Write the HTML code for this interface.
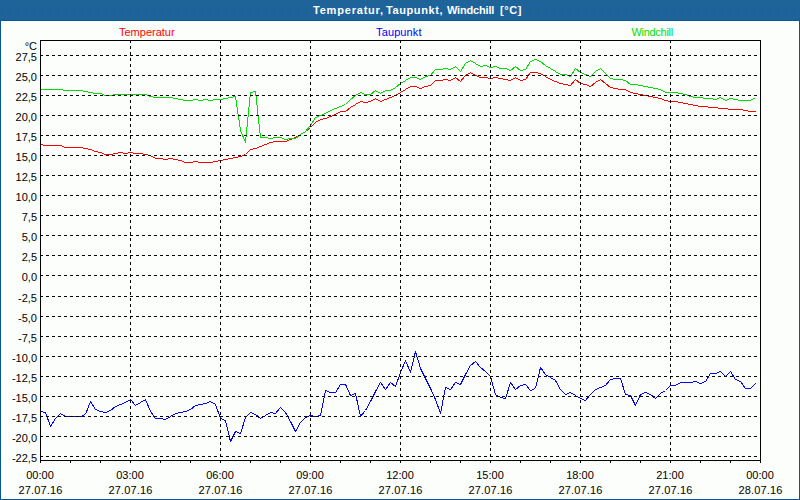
<!DOCTYPE html>
<html><head><meta charset="utf-8"><title>Temperatur, Taupunkt, Windchill</title>
<style>
html,body{margin:0;padding:0;background:#fcfefc;}
body{width:800px;height:500px;overflow:hidden;position:relative;font-family:"Liberation Sans",sans-serif;font-size:11px;color:#000;}
#frame{position:absolute;left:0;top:0;width:798px;height:498px;border:1px solid #0b5591;background:#fcfefc;}
#bevel{position:absolute;left:1px;top:21px;width:796px;height:476px;border:1px solid #ffffff;}
#title{position:absolute;left:0;top:0;width:800px;height:20px;background:#1e6396;border-bottom:1px solid #0b5591;}
#title span{position:absolute;left:313px;top:4px;font-weight:bold;font-size:11px;color:#fff;white-space:nowrap;line-height:13px;}
.t{position:absolute;white-space:nowrap;line-height:13px;font-size:11px;}
.yl{position:absolute;left:0;width:37px;text-align:right;line-height:13px;font-size:11px;}
.xl{position:absolute;width:60px;text-align:center;line-height:13px;font-size:11px;}
</style></head><body>
<div id="frame"></div><div id="bevel"></div>
<div id="title"><svg width="800" height="20" shape-rendering="crispEdges" style="position:absolute;left:0;top:0"><defs><pattern id="dz" width="4" height="6" patternUnits="userSpaceOnUse"><rect x="1" y="1" width="1" height="1" fill="#2265b0"/><rect x="0" y="3" width="1" height="1" fill="#2265b0"/><rect x="2" y="5" width="1" height="1" fill="#2265b0"/></pattern></defs><rect x="0" y="0" width="800" height="20" fill="url(#dz)"/></svg><span id="tt" style="left:313px;letter-spacing:0.8px">Temperatur,</span><span style="left:386px;letter-spacing:0.59px">Taupunkt,</span><span style="left:447px;letter-spacing:-0.17px">Windchill</span><span style="left:500px;letter-spacing:0.6px">[°C]</span></div>

<div class="t" id="l1" style="left:119px;top:26px;color:#ff0000">Temperatur</div>
<div class="t" id="l2" style="left:376px;top:26px;color:#0000ff;letter-spacing:0.13px">Taupunkt</div>
<div class="t" id="l3" style="left:631.5px;top:26px;color:#00dc00;letter-spacing:-0.3px">Windchill</div>
<div class="yl" style="top:40px">°C</div>
<div class="yl" style="top:51px">27,5</div>
<div class="yl" style="top:71px">25,0</div>
<div class="yl" style="top:91px">22,5</div>
<div class="yl" style="top:111px">20,0</div>
<div class="yl" style="top:131px">17,5</div>
<div class="yl" style="top:151px">15,0</div>
<div class="yl" style="top:171px">12,5</div>
<div class="yl" style="top:191px">10,0</div>
<div class="yl" style="top:211px">7,5</div>
<div class="yl" style="top:231px">5,0</div>
<div class="yl" style="top:251px">2,5</div>
<div class="yl" style="top:271px">0,0</div>
<div class="yl" style="top:292px">-2,5</div>
<div class="yl" style="top:312px">-5,0</div>
<div class="yl" style="top:332px">-7,5</div>
<div class="yl" style="top:352px">-10,0</div>
<div class="yl" style="top:372px">-12,5</div>
<div class="yl" style="top:392px">-15,0</div>
<div class="yl" style="top:412px">-17,5</div>
<div class="yl" style="top:432px">-20,0</div>
<div class="yl" style="top:452px">-22,5</div>
<div class="xl" style="left:10px;top:469px">00:00</div>
<div class="xl" style="left:10px;top:484px;letter-spacing:0.12px;margin-left:0.5px">27.07.16</div>
<div class="xl" style="left:100px;top:469px">03:00</div>
<div class="xl" style="left:100px;top:484px;letter-spacing:0.12px;margin-left:0.5px">27.07.16</div>
<div class="xl" style="left:190px;top:469px">06:00</div>
<div class="xl" style="left:190px;top:484px;letter-spacing:0.12px;margin-left:0.5px">27.07.16</div>
<div class="xl" style="left:280px;top:469px">09:00</div>
<div class="xl" style="left:280px;top:484px;letter-spacing:0.12px;margin-left:0.5px">27.07.16</div>
<div class="xl" style="left:370px;top:469px">12:00</div>
<div class="xl" style="left:370px;top:484px;letter-spacing:0.12px;margin-left:0.5px">27.07.16</div>
<div class="xl" style="left:460px;top:469px">15:00</div>
<div class="xl" style="left:460px;top:484px;letter-spacing:0.12px;margin-left:0.5px">27.07.16</div>
<div class="xl" style="left:550px;top:469px">18:00</div>
<div class="xl" style="left:550px;top:484px;letter-spacing:0.12px;margin-left:0.5px">27.07.16</div>
<div class="xl" style="left:640px;top:469px">21:00</div>
<div class="xl" style="left:640px;top:484px;letter-spacing:0.12px;margin-left:0.5px">27.07.16</div>
<div class="xl" style="left:730px;top:469px">00:00</div>
<div class="xl" style="left:730px;top:484px;letter-spacing:0.12px;margin-left:0.5px">28.07.16</div>
<svg width="800" height="500" viewBox="0 0 800 500" shape-rendering="crispEdges" style="position:absolute;left:0;top:0">
<polyline points="40.5,144.5 45.5,145.5 50.5,145.5 55.5,145.5 60.5,145.5 65.5,147.5 70.5,147.5 75.5,147.5 80.5,147.5 85.5,148.5 90.5,149.5 95.5,151.5 100.5,152.5 105.5,154.5 110.5,154.5 115.5,153.5 120.5,152.5 125.5,153.5 130.5,152.5 135.5,153.5 140.5,153.5 145.5,154.5 150.5,155.5 155.5,158.5 160.5,158.5 165.5,159.5 170.5,158.5 175.5,159.5 180.5,160.5 185.5,162.5 190.5,162.5 195.5,161.5 200.5,162.5 205.5,162.5 210.5,162.5 215.5,161.5 220.5,160.5 225.5,159.5 230.5,158.5 235.5,157.5 240.5,156.5 245.5,154.5 250.5,149.5 255.5,148.5 260.5,146.5 265.5,144.5 270.5,142.5 275.5,141.5 280.5,141.5 285.5,141.5 290.5,139.5 295.5,137.5 300.5,134.5 305.5,131.5 310.5,127.5 315.5,122.5 320.5,119.5 325.5,118.5 330.5,116.5 335.5,114.5 340.5,111.5 345.5,111.5 350.5,107.5 355.5,104.5 360.5,101.5 365.5,102.5 370.5,101.5 375.5,98.5 380.5,101.5 385.5,99.5 390.5,97.5 395.5,95.5 400.5,92.5 405.5,89.5 410.5,86.5 415.5,86.5 420.5,88.5 425.5,86.5 430.5,85.5 435.5,80.5 440.5,80.5 445.5,79.5 450.5,80.5 455.5,77.5 460.5,81.5 465.5,75.5 470.5,72.5 475.5,75.5 480.5,77.5 485.5,77.5 490.5,78.5 495.5,77.5 500.5,78.5 505.5,79.5 510.5,80.5 515.5,77.5 520.5,80.5 525.5,79.5 530.5,72.5 535.5,72.5 540.5,73.5 545.5,76.5 550.5,79.5 555.5,81.5 560.5,83.5 565.5,84.5 570.5,85.5 575.5,79.5 580.5,83.5 585.5,84.5 590.5,86.5 595.5,82.5 600.5,79.5 605.5,83.5 610.5,87.5 615.5,88.5 620.5,89.5 625.5,89.5 630.5,92.5 635.5,93.5 640.5,94.5 645.5,95.5 650.5,96.5 655.5,97.5 660.5,98.5 665.5,100.5 670.5,101.5 675.5,101.5 680.5,102.5 685.5,103.5 690.5,104.5 695.5,105.5 700.5,106.5 705.5,106.5 710.5,107.5 715.5,107.5 720.5,108.5 725.5,108.5 730.5,109.5 735.5,109.5 740.5,109.5 745.5,110.5 750.5,111.5 755.5,111.5" fill="none" stroke="#ff0000" stroke-width="1" stroke-linejoin="bevel"/>
<polyline points="40.5,89.5 45.5,89.5 50.5,89.5 55.5,89.5 60.5,89.5 65.5,90.5 70.5,90.5 75.5,90.5 80.5,90.5 85.5,91.5 90.5,92.5 95.5,93.5 100.5,93.5 105.5,95.5 110.5,95.5 115.5,94.5 120.5,94.5 125.5,94.5 130.5,94.5 135.5,94.5 140.5,94.5 145.5,94.5 150.5,96.5 155.5,97.5 160.5,97.5 165.5,97.5 170.5,97.5 175.5,98.5 180.5,99.5 185.5,100.5 190.5,100.5 195.5,99.5 200.5,100.5 205.5,99.5 210.5,100.5 215.5,99.5 220.5,99.5 225.5,98.5 230.5,97.5 235.5,96.5 240.5,130.5 245.5,142.5 250.5,92.5 255.5,91.5 260.5,137.5 265.5,137.5 270.5,138.5 275.5,137.5 280.5,137.5 285.5,139.5 290.5,138.5 295.5,138.5 300.5,134.5 305.5,131.5 310.5,125.5 315.5,117.5 320.5,115.5 325.5,113.5 330.5,110.5 335.5,108.5 340.5,106.5 345.5,104.5 350.5,99.5 355.5,95.5 360.5,92.5 365.5,94.5 370.5,94.5 375.5,90.5 380.5,93.5 385.5,90.5 390.5,90.5 395.5,87.5 400.5,83.5 405.5,80.5 410.5,77.5 415.5,77.5 420.5,79.5 425.5,76.5 430.5,75.5 435.5,69.5 440.5,69.5 445.5,68.5 450.5,69.5 455.5,66.5 460.5,71.5 465.5,63.5 470.5,60.5 475.5,63.5 480.5,66.5 485.5,65.5 490.5,67.5 495.5,66.5 500.5,68.5 505.5,68.5 510.5,70.5 515.5,66.5 520.5,70.5 525.5,69.5 530.5,61.5 535.5,59.5 540.5,61.5 545.5,65.5 550.5,68.5 555.5,71.5 560.5,74.5 565.5,74.5 570.5,76.5 575.5,68.5 580.5,72.5 585.5,74.5 590.5,76.5 595.5,71.5 600.5,68.5 605.5,73.5 610.5,78.5 615.5,79.5 620.5,79.5 625.5,80.5 630.5,84.5 635.5,84.5 640.5,85.5 645.5,86.5 650.5,87.5 655.5,88.5 660.5,89.5 665.5,92.5 670.5,92.5 675.5,92.5 680.5,93.5 685.5,94.5 690.5,96.5 695.5,97.5 700.5,97.5 705.5,98.5 710.5,98.5 715.5,99.5 720.5,97.5 725.5,100.5 730.5,98.5 735.5,99.5 740.5,100.5 745.5,100.5 750.5,100.5 755.5,97.5" fill="none" stroke="#00dc00" stroke-width="1" stroke-linejoin="bevel"/>
<polyline points="40.5,411.5 45.5,412.5 50.5,426.5 55.5,418.5 60.5,413.5 65.5,416.5 70.5,416.5 75.5,416.5 80.5,416.5 85.5,414.5 90.5,401.5 95.5,409.5 100.5,411.5 105.5,412.5 110.5,410.5 115.5,406.5 120.5,404.5 125.5,402.5 130.5,399.5 135.5,405.5 140.5,402.5 145.5,399.5 150.5,411.5 155.5,418.5 160.5,418.5 165.5,419.5 170.5,416.5 175.5,413.5 180.5,412.5 185.5,411.5 190.5,409.5 195.5,405.5 200.5,404.5 205.5,403.5 210.5,401.5 215.5,404.5 220.5,418.5 225.5,420.5 230.5,441.5 235.5,431.5 240.5,433.5 245.5,417.5 250.5,412.5 255.5,414.5 260.5,418.5 265.5,415.5 270.5,412.5 275.5,413.5 280.5,407.5 285.5,412.5 290.5,421.5 295.5,431.5 300.5,422.5 305.5,417.5 310.5,415.5 315.5,416.5 320.5,415.5 325.5,390.5 330.5,392.5 335.5,392.5 340.5,384.5 345.5,384.5 350.5,395.5 355.5,393.5 360.5,416.5 365.5,410.5 370.5,401.5 375.5,391.5 380.5,382.5 385.5,389.5 390.5,382.5 395.5,386.5 400.5,372.5 405.5,360.5 410.5,372.5 415.5,351.5 420.5,368.5 425.5,378.5 430.5,388.5 435.5,399.5 440.5,413.5 445.5,387.5 450.5,389.5 455.5,382.5 460.5,384.5 465.5,374.5 470.5,365.5 475.5,361.5 480.5,367.5 485.5,371.5 490.5,376.5 495.5,394.5 500.5,397.5 505.5,398.5 510.5,382.5 515.5,389.5 520.5,385.5 525.5,384.5 530.5,390.5 535.5,388.5 540.5,367.5 545.5,374.5 550.5,377.5 555.5,380.5 560.5,389.5 565.5,394.5 570.5,392.5 575.5,395.5 580.5,398.5 585.5,400.5 590.5,394.5 595.5,389.5 600.5,387.5 605.5,385.5 610.5,379.5 615.5,378.5 620.5,378.5 625.5,394.5 630.5,395.5 635.5,405.5 640.5,394.5 645.5,392.5 650.5,394.5 655.5,398.5 660.5,393.5 665.5,390.5 670.5,385.5 675.5,385.5 680.5,382.5 685.5,382.5 690.5,382.5 695.5,381.5 700.5,383.5 705.5,381.5 710.5,373.5 715.5,373.5 720.5,371.5 725.5,376.5 730.5,371.5 735.5,379.5 740.5,381.5 745.5,388.5 750.5,388.5 755.5,383.5" fill="none" stroke="#0000ff" stroke-width="1" stroke-linejoin="bevel"/>
<line x1="40" y1="55.5" x2="760" y2="55.5" stroke="#000" stroke-width="1" stroke-dasharray="3 3"/>
<line x1="40" y1="75.5" x2="760" y2="75.5" stroke="#000" stroke-width="1" stroke-dasharray="3 3"/>
<line x1="40" y1="95.5" x2="760" y2="95.5" stroke="#000" stroke-width="1" stroke-dasharray="3 3"/>
<line x1="40" y1="115.5" x2="760" y2="115.5" stroke="#000" stroke-width="1" stroke-dasharray="3 3"/>
<line x1="40" y1="135.5" x2="760" y2="135.5" stroke="#000" stroke-width="1" stroke-dasharray="3 3"/>
<line x1="40" y1="155.5" x2="760" y2="155.5" stroke="#000" stroke-width="1" stroke-dasharray="3 3"/>
<line x1="40" y1="175.5" x2="760" y2="175.5" stroke="#000" stroke-width="1" stroke-dasharray="3 3"/>
<line x1="40" y1="195.5" x2="760" y2="195.5" stroke="#000" stroke-width="1" stroke-dasharray="3 3"/>
<line x1="40" y1="215.5" x2="760" y2="215.5" stroke="#000" stroke-width="1" stroke-dasharray="3 3"/>
<line x1="40" y1="235.5" x2="760" y2="235.5" stroke="#000" stroke-width="1" stroke-dasharray="3 3"/>
<line x1="40" y1="255.5" x2="760" y2="255.5" stroke="#000" stroke-width="1" stroke-dasharray="3 3"/>
<line x1="40" y1="275.5" x2="760" y2="275.5" stroke="#000" stroke-width="1" stroke-dasharray="3 3"/>
<line x1="40" y1="296.5" x2="760" y2="296.5" stroke="#000" stroke-width="1" stroke-dasharray="3 3"/>
<line x1="40" y1="316.5" x2="760" y2="316.5" stroke="#000" stroke-width="1" stroke-dasharray="3 3"/>
<line x1="40" y1="336.5" x2="760" y2="336.5" stroke="#000" stroke-width="1" stroke-dasharray="3 3"/>
<line x1="40" y1="356.5" x2="760" y2="356.5" stroke="#000" stroke-width="1" stroke-dasharray="3 3"/>
<line x1="40" y1="376.5" x2="760" y2="376.5" stroke="#000" stroke-width="1" stroke-dasharray="3 3"/>
<line x1="40" y1="396.5" x2="760" y2="396.5" stroke="#000" stroke-width="1" stroke-dasharray="3 3"/>
<line x1="40" y1="416.5" x2="760" y2="416.5" stroke="#000" stroke-width="1" stroke-dasharray="3 3"/>
<line x1="40" y1="436.5" x2="760" y2="436.5" stroke="#000" stroke-width="1" stroke-dasharray="3 3"/>
<line x1="40" y1="456.5" x2="760" y2="456.5" stroke="#000" stroke-width="1" stroke-dasharray="3 3"/>
<line x1="130.5" y1="40" x2="130.5" y2="460" stroke="#000" stroke-width="1" stroke-dasharray="3 3"/>
<line x1="220.5" y1="40" x2="220.5" y2="460" stroke="#000" stroke-width="1" stroke-dasharray="3 3"/>
<line x1="310.5" y1="40" x2="310.5" y2="460" stroke="#000" stroke-width="1" stroke-dasharray="3 3"/>
<line x1="400.5" y1="40" x2="400.5" y2="460" stroke="#000" stroke-width="1" stroke-dasharray="3 3"/>
<line x1="490.5" y1="40" x2="490.5" y2="460" stroke="#000" stroke-width="1" stroke-dasharray="3 3"/>
<line x1="580.5" y1="40" x2="580.5" y2="460" stroke="#000" stroke-width="1" stroke-dasharray="3 3"/>
<line x1="670.5" y1="40" x2="670.5" y2="460" stroke="#000" stroke-width="1" stroke-dasharray="3 3"/>
<rect x="40.5" y="40.5" width="720" height="420" fill="none" stroke="#000" stroke-width="1"/>
<line x1="40.5" y1="460" x2="40.5" y2="463" stroke="#000" stroke-width="1"/>
<line x1="70.5" y1="460" x2="70.5" y2="463" stroke="#000" stroke-width="1"/>
<line x1="100.5" y1="460" x2="100.5" y2="463" stroke="#000" stroke-width="1"/>
<line x1="130.5" y1="460" x2="130.5" y2="463" stroke="#000" stroke-width="1"/>
<line x1="160.5" y1="460" x2="160.5" y2="463" stroke="#000" stroke-width="1"/>
<line x1="190.5" y1="460" x2="190.5" y2="463" stroke="#000" stroke-width="1"/>
<line x1="220.5" y1="460" x2="220.5" y2="463" stroke="#000" stroke-width="1"/>
<line x1="250.5" y1="460" x2="250.5" y2="463" stroke="#000" stroke-width="1"/>
<line x1="280.5" y1="460" x2="280.5" y2="463" stroke="#000" stroke-width="1"/>
<line x1="310.5" y1="460" x2="310.5" y2="463" stroke="#000" stroke-width="1"/>
<line x1="340.5" y1="460" x2="340.5" y2="463" stroke="#000" stroke-width="1"/>
<line x1="370.5" y1="460" x2="370.5" y2="463" stroke="#000" stroke-width="1"/>
<line x1="400.5" y1="460" x2="400.5" y2="463" stroke="#000" stroke-width="1"/>
<line x1="430.5" y1="460" x2="430.5" y2="463" stroke="#000" stroke-width="1"/>
<line x1="460.5" y1="460" x2="460.5" y2="463" stroke="#000" stroke-width="1"/>
<line x1="490.5" y1="460" x2="490.5" y2="463" stroke="#000" stroke-width="1"/>
<line x1="520.5" y1="460" x2="520.5" y2="463" stroke="#000" stroke-width="1"/>
<line x1="550.5" y1="460" x2="550.5" y2="463" stroke="#000" stroke-width="1"/>
<line x1="580.5" y1="460" x2="580.5" y2="463" stroke="#000" stroke-width="1"/>
<line x1="610.5" y1="460" x2="610.5" y2="463" stroke="#000" stroke-width="1"/>
<line x1="640.5" y1="460" x2="640.5" y2="463" stroke="#000" stroke-width="1"/>
<line x1="670.5" y1="460" x2="670.5" y2="463" stroke="#000" stroke-width="1"/>
<line x1="700.5" y1="460" x2="700.5" y2="463" stroke="#000" stroke-width="1"/>
<line x1="730.5" y1="460" x2="730.5" y2="463" stroke="#000" stroke-width="1"/>
<line x1="760.5" y1="460" x2="760.5" y2="463" stroke="#000" stroke-width="1"/>
</svg>
</body></html>
